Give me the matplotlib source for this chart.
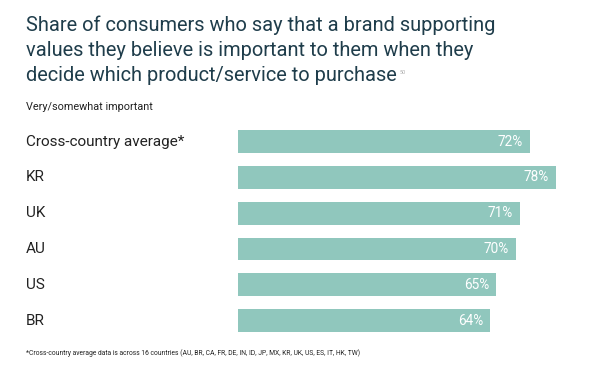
import matplotlib
matplotlib.use("Agg")
import matplotlib.pyplot as plt

# data
categories = ["Cross-country average*", "KR", "UK", "AU", "US", "BR"]
labels = ["72%", "78%", "71%", "70%", "65%", "64%"]
values = [72.3, 78.7, 69.8, 68.7, 63.9, 62.4]  # bar lengths as drawn

title_lines = ["Share of consumers who say that a brand supporting",
               "values they believe is important to them when they",
               "decide which product/service to purchase"]
subtitle = "Very/somewhat important"
footnote = ("*Cross-country average data is across 16 countries "
            "(AU, BR, CA, FR, DE, IN, ID, JP, MX, KR, UK, US, ES, IT, HK, TW)")

bar_color = "#90c7bd"
text_color = "#1f3d4b"

plt.rcParams["font.family"] = ["Roboto", "DejaVu Sans"]

W, H = 600, 365
fig = plt.figure(figsize=(W / 100, H / 100), dpi=100)
ax = fig.add_axes([238 / W, 1 - 340 / H, (W - 238) / W, 220 / H])

ypos = list(range(len(categories)))
ax.barh(ypos, values, height=0.64, color=bar_color, edgecolor="none")
ax.set_xlim(0, (W - 238) / 4.04)
ax.set_ylim(5.545, -0.607)
ax.axis("off")

for y, v, lab in zip(ypos, values, labels):
    ax.text(v - 1.7, y, lab, color="white", fontsize=9.8,
            ha="right", va="center")

# category labels, left aligned at the page margin
for y, c in zip(ypos, categories):
    ax.annotate(c, xy=(0, y), xycoords=("figure fraction", "data"),
                xytext=(26, 0), textcoords="offset pixels",
                fontsize=11, color="#222222", ha="left", va="center")

# title, one text per line so the footnote marker can sit after the last one
renderer = fig.canvas.get_renderer()
for i, line in enumerate(title_lines):
    t = fig.text(26 / W, 1 - (31 + 25 * i) / H, line, fontsize=14.4,
                 color=text_color, ha="left", va="baseline")
lw = t.get_window_extent(renderer).width
fig.text((26 + lw + 3) / W, 1 - 72 / H, "50", fontsize=4, color="#aaaaaa",
         ha="left", va="center")

fig.text(26 / W, 1 - 107 / H, subtitle, fontsize=7.8, color="#222222",
         ha="left", va="center")
fig.text(26 / W, 1 - 353 / H, footnote, fontsize=4.9, color="#222222",
         ha="left", va="center")

fig.savefig("out.png", dpi=100)
